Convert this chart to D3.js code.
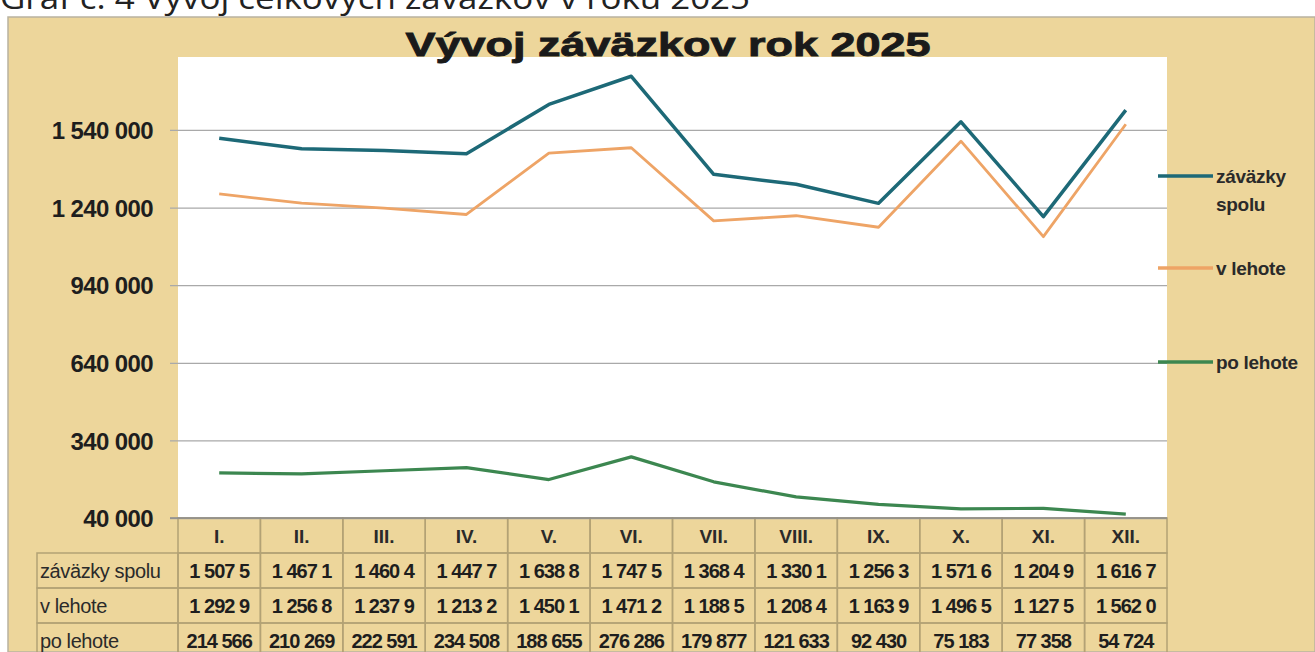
<!DOCTYPE html>
<html>
<head>
<meta charset="utf-8">
<script src="https://cdn.jsdelivr.net/npm/d3@7"></script>
<style>
  body { margin: 0; background: #fff; }
  svg { display: block; }
</style>
</head>
<body>
<div id="chart"></div>
<script>
// data
const months = ["I.", "II.", "III.", "IV.", "V.", "VI.", "VII.", "VIII.", "IX.", "X.", "XI.", "XII."];
const spolu = [1507500, 1467100, 1460400, 1447700, 1638800, 1747500, 1368400, 1330100, 1256300, 1571600, 1204900, 1616700];
const vLehote = [1292900, 1256800, 1237900, 1213200, 1450100, 1471200, 1188500, 1208400, 1163900, 1496500, 1127500, 1562000];
const poLehote = [214566, 210269, 222591, 234508, 188655, 276286, 179877, 121633, 92430, 75183, 77358, 54724];
const yTicks = [40000, 340000, 640000, 940000, 1240000, 1540000];

const seriesNames = ["záväzky spolu", "v lehote", "po lehote"];
const seriesColors = ["#1d6977", "#eea466", "#3c8750"];

const width = 1315, height = 652;
const plot = { left: 178, right: 1167, top: 57, bottom: 518 };
const font = "Liberation Sans, Arial, sans-serif";

const svg = d3.select("#chart").append("svg")
  .attr("width", width)
  .attr("height", height);

// parchment background
svg.append("rect")
  .attr("x", 8).attr("y", 17)
  .attr("width", width - 8).attr("height", height - 17)
  .attr("fill", "#edd69b")
  .attr("stroke", "#b9b3a0").attr("stroke-width", 1.5);

// caption, cut off at the top like in the scan
svg.append("text")
  .text("Graf č. 4   Vývoj  celkových záväzkov v roku 2025")
  .attr("x", 0).attr("y", 9)
  .attr("textLength", 750)
  .attr("lengthAdjust", "spacingAndGlyphs")
  .style("font-family", "Open Sans, sans-serif")
  .style("font-size", "31px")
  .attr("fill", "#222");

svg.append("rect")
  .attr("x", plot.left).attr("y", plot.top)
  .attr("width", plot.right - plot.left).attr("height", plot.bottom - plot.top)
  .attr("fill", "#fff");

let x = d3.scaleBand()
  .domain(months)
  .range([plot.left, plot.right]);

let y = d3.scaleLinear()
  .domain([40000, 1822000])
  .range([plot.bottom, plot.top]);

let fmt = d3.formatLocale({ thousands: " ", grouping: [3], decimal: ",", currency: ["", ""] }).format(",");

let axisLeft = d3.axisLeft(y)
  .tickValues(yTicks)
  .tickSize(plot.right - plot.left + 8)
  .tickFormat(fmt);

let ga = svg.append("g")
  .attr("transform", "translate(" + plot.right + ",0)")
  .call(axisLeft);
ga.select(".domain").remove();
ga.selectAll(".tick line")
  .attr("stroke", "#a9a9a9")
  .attr("stroke-width", 1.3);
ga.selectAll(".tick text")
  .attr("x", -(plot.right - plot.left) - 25)
  .attr("dy", "0.36em")
  .style("font-family", font)
  .style("font-size", "24px")
  .style("font-weight", "bold")
  .style("letter-spacing", "-0.6px")
  .attr("fill", "#1e1e1e");

// lines
let allSeries = [spolu, vLehote, poLehote];
let widths = [3.5, 2.8, 3.2];
let line = d3.line()
  .x((d, i) => x(months[i]) + x.bandwidth() / 2)
  .y(d => y(d));

allSeries.forEach((s, k) => {
  svg.append("path")
    .datum(s)
    .attr("d", line)
    .attr("fill", "none")
    .attr("stroke", seriesColors[k])
    .attr("stroke-width", widths[k])
    .attr("stroke-linejoin", "round");
});

// title
svg.append("text")
  .text("Vývoj  záväzkov rok 2025")
  .attr("x", 668).attr("y", 56)
  .attr("text-anchor", "middle")
  .attr("textLength", 525)
  .attr("lengthAdjust", "spacingAndGlyphs")
  .style("font-family", font)
  .style("font-size", "34px")
  .style("font-weight", "bold")
  .attr("fill", "#1a1a1a")
  .attr("stroke", "#1a1a1a")
  .attr("stroke-width", 0.9);

// legend
let legendY = [176, 268, 362];
let legendLabels = [["záväzky", "spolu"], ["v lehote"], ["po lehote"]];
legendLabels.forEach((lab, k) => {
  svg.append("line")
    .attr("x1", 1158).attr("x2", 1213)
    .attr("y1", legendY[k]).attr("y2", legendY[k])
    .attr("stroke", seriesColors[k])
    .attr("stroke-width", 3.5);
  let t = svg.append("text")
    .attr("x", 1216).attr("y", legendY[k] + 7)
    .style("font-family", font)
    .style("font-size", "19px")
    .style("font-weight", "bold")
    .style("letter-spacing", "-0.3px")
    .attr("fill", "#2a2a2a");
  lab.forEach((l, j) => {
    t.append("tspan").attr("x", 1216).attr("dy", j ? 28 : 0).text(l);
  });
});

// data table
let rowTop = [518, 553, 588, 623];
let rowH = 35;
let labelLeft = 37;
let border = "#b3a275";
let tbl = svg.append("g");

// header row
months.forEach(m => {
  tbl.append("rect")
    .attr("x", x(m)).attr("y", rowTop[0])
    .attr("width", x.bandwidth()).attr("height", rowH)
    .attr("fill", "none").attr("stroke", border).attr("stroke-width", 1.5);
  tbl.append("text")
    .text(m)
    .attr("x", x(m) + x.bandwidth() / 2).attr("y", rowTop[0] + 25)
    .attr("text-anchor", "middle")
    .style("font-family", font)
    .style("font-size", "19px")
    .style("font-weight", "bold")
    .attr("fill", "#2a2a2a");
});

// value rows; long values are clipped by the narrow cells like in the scan
let cellText = (v) => v >= 1000000 ? fmt(v).slice(0, 7) : fmt(v);
allSeries.forEach((s, k) => {
  let top = rowTop[k + 1];
  tbl.append("rect")
    .attr("x", labelLeft).attr("y", top)
    .attr("width", plot.left - labelLeft).attr("height", rowH)
    .attr("fill", "none").attr("stroke", border).attr("stroke-width", 1.5);
  tbl.append("text")
    .text(seriesNames[k])
    .attr("x", labelLeft + 3).attr("y", top + 25)
    .style("font-family", font)
    .style("font-size", "20px")
    .style("letter-spacing", "-0.4px")
    .attr("fill", "#2a2a2a");
  s.forEach((v, i) => {
    tbl.append("rect")
      .attr("x", x(months[i])).attr("y", top)
      .attr("width", x.bandwidth()).attr("height", rowH)
      .attr("fill", "none").attr("stroke", border).attr("stroke-width", 1.5);
    tbl.append("text")
      .text(cellText(v))
      .attr("x", x(months[i]) + x.bandwidth() / 2).attr("y", top + 25)
      .attr("text-anchor", "middle")
      .style("font-family", font)
      .style("font-size", "20px")
      .style("font-weight", "bold")
      .style("letter-spacing", "-1px")
      .attr("fill", "#1e1e1e");
  });
});

// dark axis base line
svg.append("line")
  .attr("x1", plot.left - 8).attr("x2", plot.right)
  .attr("y1", plot.bottom).attr("y2", plot.bottom)
  .attr("stroke", "#8c8c8c").attr("stroke-width", 1.5);
</script>
</body>
</html>
